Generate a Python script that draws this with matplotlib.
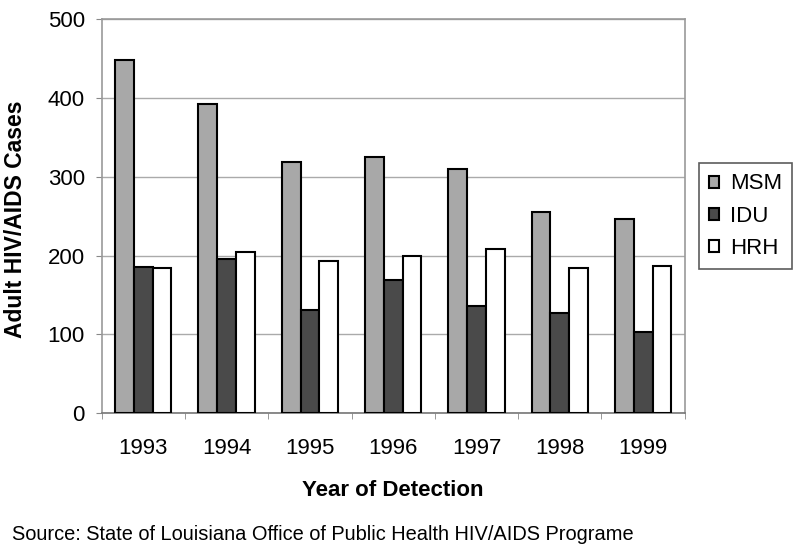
#importing required libraries
import matplotlib.pyplot as plt
import numpy as np

plt.rcParams['font.family'] = ['Liberation Sans', 'DejaVu Sans']

#data
years = ['1993', '1994', '1995', '1996', '1997', '1998', '1999']
msm = [448, 392, 319, 325, 310, 255, 246]
idu = [185, 195, 131, 169, 136, 127, 103]
hrh = [184, 205, 193, 199, 208, 184, 187]
series_names = ['MSM', 'IDU', 'HRH']

fig = plt.figure(figsize=(8, 5.53), dpi=100)
ax = fig.add_axes([0.127, 0.2526, 0.729, 0.7134])

x = np.arange(len(years))
w = 0.225
colors = ['#a8a8a8', '#4a4a4a', '#ffffff']
for i, vals in enumerate([msm, idu, hrh]):
    ax.bar(x + (i - 1) * w, vals, w, color=colors[i], edgecolor='black',
           linewidth=1.5, label=series_names[i], zorder=3)

#axes and grid
ax.set_xlim(-0.5, len(years) - 0.5)
ax.set_ylim(0, 500)
ax.set_yticks(range(0, 501, 100))
ax.set_xticks(x)
ax.set_xticklabels(years)
ax.set_xticks(np.arange(-0.5, len(years), 1), minor=True)
ax.tick_params(axis='x', which='major', length=0, pad=18, labelsize=16)
ax.tick_params(axis='x', which='minor', length=4, color='#888888', direction='out')
ax.tick_params(axis='y', length=4, color='#888888', labelsize=16, pad=8)
ax.yaxis.grid(True, color='#aaaaaa', linewidth=1, zorder=0)
for s in ax.spines.values():
    s.set_color('#999999')
    s.set_linewidth(1.2)
ax.spines['bottom'].set_color('#777777')

#axis titles
fig.text(15.5 / 800, 1 - 219 / 553, 'Adult HIV/AIDS Cases', rotation=90,
         ha='center', va='center', fontsize=16.5, fontweight='bold')
fig.text(393 / 800, 1 - 491 / 553, 'Year of Detection', ha='center', va='center',
         fontsize=16, fontweight='bold')

#legend
leg = ax.legend(loc='center left', bbox_to_anchor=(1.024, 0.5), fontsize=16,
                frameon=True, fancybox=False, borderaxespad=0,
                handlelength=0.45, handleheight=0.45, handletextpad=0.5,
                borderpad=0.45, labelspacing=0.5)
leg.get_frame().set_edgecolor('#333333')
leg.get_frame().set_linewidth(1.2)

fig.text(12 / 800, 1 - 534 / 553,
         'Source: State of Louisiana Office of Public Health HIV/AIDS Programe',
         fontsize=14.4, va='center')

#saving the plot
fig.savefig('out.png', dpi=100)
